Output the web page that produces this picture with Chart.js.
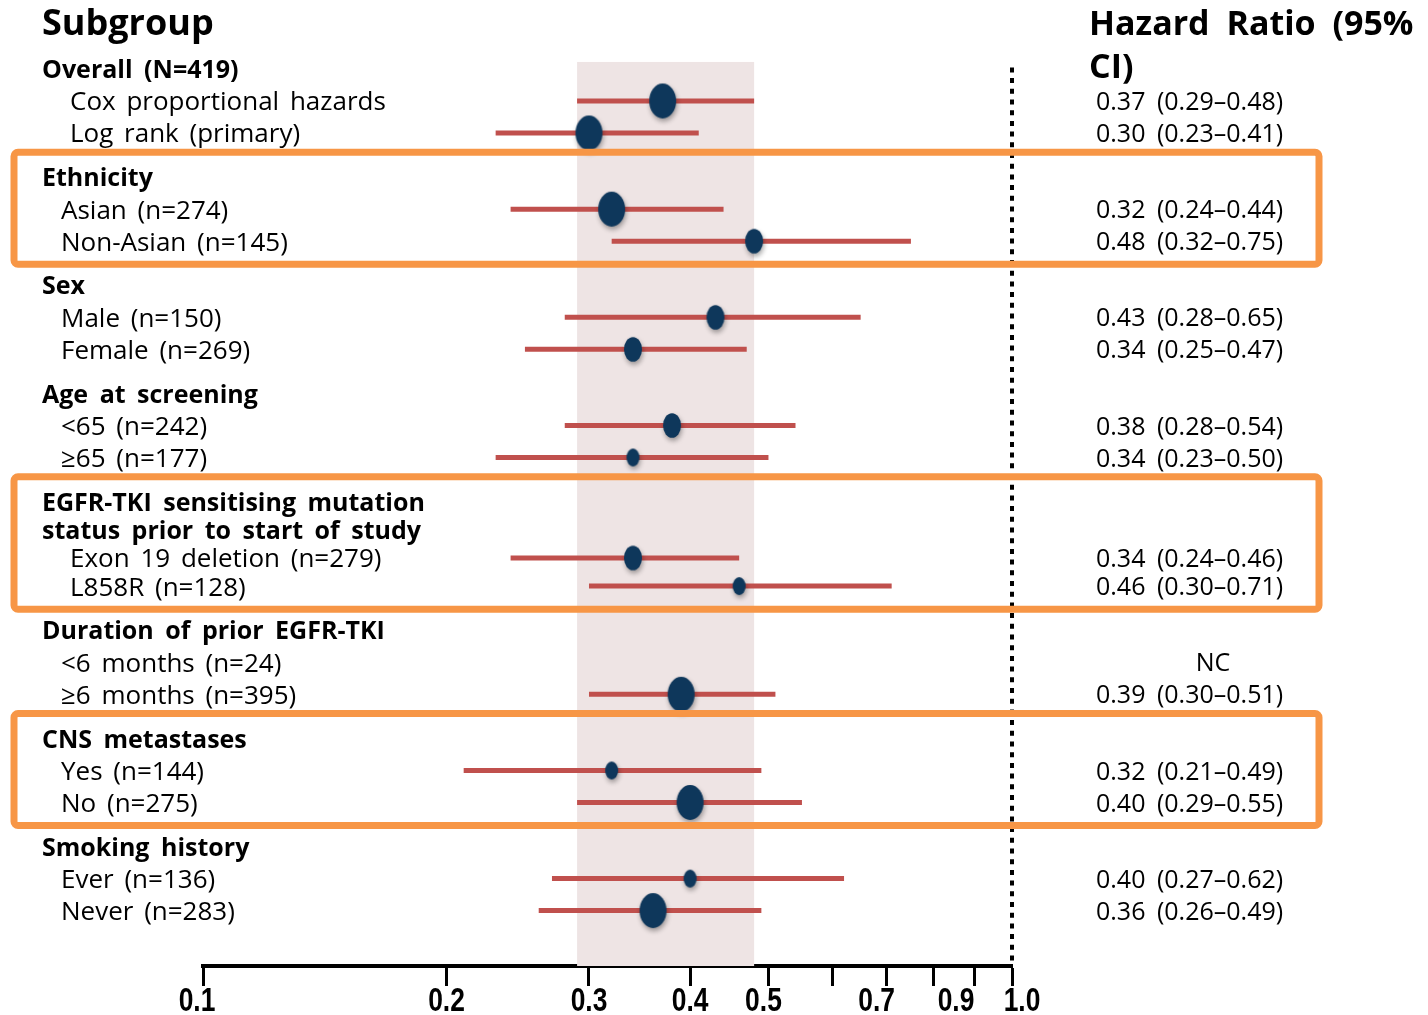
<!DOCTYPE html>
<html>
<head>
<meta charset="utf-8">
<script src="https://cdn.jsdelivr.net/npm/chart.js@4.4.1/dist/chart.umd.min.js"></script>
<style>
  html, body { margin: 0; padding: 0; background: #fff; }
  #wrap { width: 1428px; height: 1015px; position: relative; }
</style>
</head>
<body>
<div id="wrap"><canvas id="forest"></canvas></div>
<script>
// ---- data ----
const groups = [
  'Overall (N=419)',
  'Ethnicity',
  'Sex',
  'Age at screening',
  'EGFR-TKI sensitising mutation\nstatus prior to start of study',
  'Duration of prior EGFR-TKI',
  'CNS metastases',
  'Smoking history'
];
const subgroups = [
  'Cox proportional hazards', 'Log rank (primary)',
  'Asian (n=274)', 'Non-Asian (n=145)',
  'Male (n=150)', 'Female (n=269)',
  '<65 (n=242)', '\u226565 (n=177)',
  'Exon 19 deletion (n=279)', 'L858R (n=128)',
  '<6 months (n=24)', '\u22656 months (n=395)',
  'Yes (n=144)', 'No (n=275)',
  'Ever (n=136)', 'Never (n=283)'
];
const groupOf = [0, 0, 1, 1, 2, 2, 3, 3, 4, 4, 5, 5, 6, 6, 7, 7];
const hr     = [0.37, 0.30, 0.32, 0.48, 0.43, 0.34, 0.38, 0.34, 0.34, 0.46, null, 0.39, 0.32, 0.40, 0.40, 0.36];
const ciLow  = [0.29, 0.23, 0.24, 0.32, 0.28, 0.25, 0.28, 0.23, 0.24, 0.30, null, 0.30, 0.21, 0.29, 0.27, 0.26];
const ciHigh = [0.48, 0.41, 0.44, 0.75, 0.65, 0.47, 0.54, 0.50, 0.46, 0.71, null, 0.51, 0.49, 0.55, 0.62, 0.49];
// relative box weight (3 = largest marker)
const weight = [3, 3, 3, 2, 2, 2, 2, 1, 2, 1, null, 3, 1, 3, 1, 3];
const boxedGroups = [1, 4, 6];
const overallBand = [0.29, 0.48];
const refLine = 1.0;
const xTicks = [0.1, 0.2, 0.3, 0.4, 0.5, 0.6, 0.7, 0.8, 0.9, 1.0];
const xTickLabels = ['0.1', '0.2', '0.3', '0.4', '0.5', '', '0.7', '', '0.9', '1.0'];

// ---- row layout (in line units) ----
const GAP = 0.38;
const headerPos = [];
const rowPos = [];
let cursor = 0;
groups.forEach((g, gi) => {
  const lines = g.split('\n');
  const step = lines.length > 1 ? 0.88 : 1;
  headerPos.push(lines.map((_, j) => cursor + j * step));
  let p = cursor + (lines.length - 1) * step;
  groupOf.forEach((gg, ri) => {
    if (gg === gi) { p += step; rowPos[ri] = p; }
  });
  cursor = p + 1 + GAP;
});

// ---- marker images (ellipse with soft shadow) ----
const radii = { 1: [6.5, 9], 2: [9, 12.3], 3: [13.5, 17.5] };
function ellipseImg(rx, ry) {
  const m = 9;
  const c = document.createElement('canvas');
  c.width = Math.ceil(2 * rx + 2 * m);
  c.height = Math.ceil(2 * ry + 2 * m);
  const g = c.getContext('2d');
  g.shadowColor = 'rgba(0,0,0,0.35)';
  g.shadowBlur = 5;
  g.shadowOffsetX = 1;
  g.shadowOffsetY = 3;
  g.fillStyle = '#0E375B';
  g.beginPath();
  g.ellipse(c.width / 2, c.height / 2, rx, ry, 0, 0, Math.PI * 2);
  g.fill();
  return c;
}
const imgs = {};
Object.keys(radii).forEach(k => { imgs[k] = ellipseImg(radii[k][0], radii[k][1]); });

const pointIdx = hr.map((v, i) => v == null ? -1 : i).filter(i => i >= 0);

const datasets = [{
  type: 'scatter',
  order: 0,
  data: pointIdx.map(i => ({ x: hr[i], y: rowPos[i] })),
  pointStyle: ctx => imgs[weight[pointIdx[ctx.dataIndex]]],
  pointRadius: 12
}];
pointIdx.forEach(i => {
  datasets.push({
    type: 'line',
    order: 1,
    data: [{ x: ciLow[i], y: rowPos[i] }, { x: ciHigh[i], y: rowPos[i] }],
    borderColor: '#C0504D',
    borderWidth: 5,
    borderCapStyle: 'butt',
    pointRadius: 0
  });
});

const SANS = "'Open Sans', 'Noto Sans', sans-serif";
const TY = 2; // text baseline nudge
// hand-placed label nudges, as in the source figure
const labelShift = { 0.1: -6, 0.5: -5, 0.7: -10, 0.9: -19, 1: 10 };

const forestPlugin = {
  id: 'forest',
  beforeDatasetsDraw(chart) {
    const { ctx, chartArea, scales: { x, y } } = chart;
    // overall CI band
    const x0 = x.getPixelForValue(overallBand[0]);
    const x1 = x.getPixelForValue(overallBand[1]);
    const top = y.getPixelForValue(-0.22);
    ctx.save();
    ctx.fillStyle = '#EEE4E4';
    ctx.fillRect(x0, top, x1 - x0, chartArea.bottom - top);
    // reference line at HR = 1
    const xr = x.getPixelForValue(refLine);
    ctx.strokeStyle = '#000';
    ctx.lineWidth = 4;
    ctx.setLineDash([5, 5.7]);
    ctx.beginPath();
    ctx.moveTo(xr, y.getPixelForValue(-0.05));
    ctx.lineTo(xr, chartArea.bottom);
    ctx.stroke();
    ctx.restore();
  },
  afterDraw(chart) {
    const { ctx, chartArea, scales: { x, y } } = chart;
    ctx.save();
    ctx.fillStyle = '#000';
    ctx.textBaseline = 'middle';
    ctx.textAlign = 'left';
    // column titles
    ctx.wordSpacing = '8px';
    ctx.font = `bold 36px ${SANS}`;
    ctx.fillText('Subgroup', 42, 25);
    ctx.font = `bold 34px ${SANS}`;
    ctx.fillText('Hazard Ratio (95%', 1089, 25);
    ctx.fillText('CI)', 1089, 68);
    // group headers
    ctx.wordSpacing = '5px';
    ctx.font = `bold 25px ${SANS}`;
    groups.forEach((g, gi) => {
      g.split('\n').forEach((line, j) => ctx.fillText(line, 42, y.getPixelForValue(headerPos[gi][j]) + TY));
    });
    // subgroup rows + values
    subgroups.forEach((s, i) => {
      const py = y.getPixelForValue(rowPos[i]) + TY;
      const indent = (groupOf[i] === 0 || groupOf[i] === 4) ? 70 : 61;
      ctx.wordSpacing = '4px';
      ctx.font = `26px ${SANS}`;
      ctx.textAlign = 'left';
      ctx.fillText(s, indent, py);
      ctx.wordSpacing = '5px';
      ctx.font = `25px ${SANS}`;
      if (hr[i] == null) {
        ctx.textAlign = 'center';
        ctx.fillText('NC', 1213, py);
      } else {
        ctx.textAlign = 'left';
        ctx.fillText(`${hr[i].toFixed(2)} (${ciLow[i].toFixed(2)}\u2013${ciHigh[i].toFixed(2)})`, 1096, py);
      }
    });
    // x tick labels (narrow bold)
    ctx.wordSpacing = '0px';
    ctx.textAlign = 'center';
    ctx.font = "bold 33px 'Liberation Sans', Arial, sans-serif";
    x.ticks.forEach((t, i) => {
      const lbl = xTickLabels[i];
      if (!lbl) return;
      ctx.save();
      ctx.translate(x.getPixelForValue(t.value) + (labelShift[t.value] || 0), chartArea.bottom + 36);
      ctx.scale(0.8, 1);
      ctx.fillText(lbl, 0, 0);
      ctx.restore();
    });
    // highlight boxes
    ctx.strokeStyle = '#F79646';
    ctx.lineWidth = 7;
    ctx.lineJoin = 'round';
    boxedGroups.forEach(gi => {
      const rows = groupOf.map((g, i) => g === gi ? i : -1).filter(i => i >= 0);
      const t = y.getPixelForValue(headerPos[gi][0] - 0.78);
      const b = y.getPixelForValue(rowPos[rows[rows.length - 1]] + 0.72);
      ctx.beginPath();
      ctx.roundRect(14, t, 1305, b - t, 4);
      ctx.stroke();
    });
    ctx.restore();
  }
};

new Chart(document.getElementById('forest'), {
  data: { datasets },
  plugins: [forestPlugin],
  options: {
    responsive: true,
    maintainAspectRatio: false,
    animation: false,
    layout: { autoPadding: false, padding: { left: 203, right: 416, top: 0, bottom: 29 } },
    plugins: { legend: { display: false }, tooltip: { enabled: false } },
    scales: {
      x: {
        type: 'logarithmic',
        min: 0.1,
        max: 1.0,
        afterBuildTicks: scale => { scale.ticks = xTicks.map(v => ({ value: v })); },
        ticks: { display: false },
        grid: { drawOnChartArea: false, drawTicks: true, tickLength: 20, tickWidth: 3, tickColor: '#000' },
        border: { display: true, width: 4, color: '#000' }
      },
      y: {
        type: 'linear',
        display: false,
        reverse: true,
        min: -69 / 32,
        max: (966 - 69) / 32
      }
    }
  }
});
</script>
</body>
</html>
